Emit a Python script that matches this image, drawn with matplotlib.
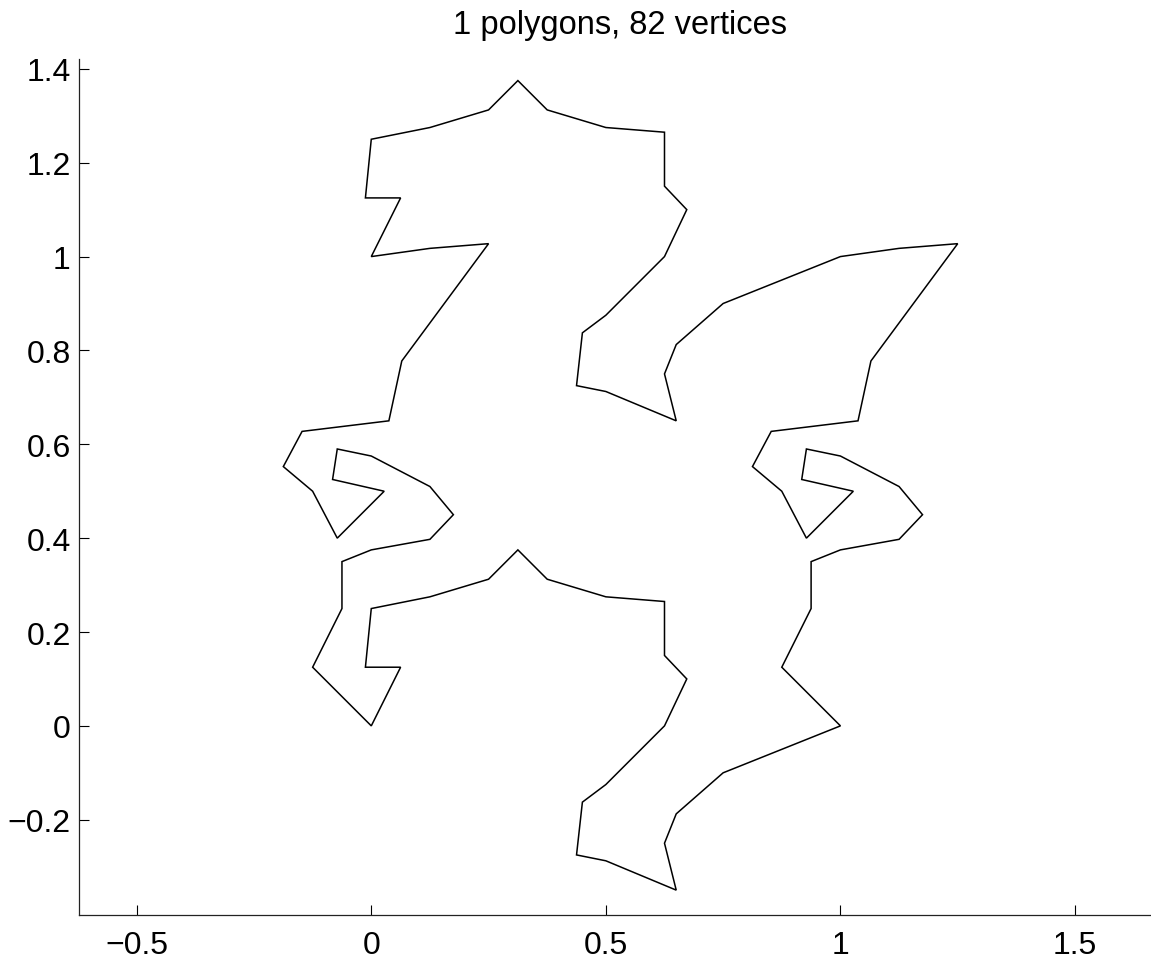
import matplotlib
matplotlib.use("Agg")
import matplotlib.pyplot as plt

plt.rcParams['font.family'] = ['Liberation Sans', 'DejaVu Sans']

# polygon vertices (82 unique)
poly_x = [
    # bottom edge
    0, 0.0625, -0.0125, 0, 0.125, 0.25, 0.3125, 0.375, 0.5, 0.625, 0.625, 0.6725,
    0.625, 0.5, 0.45, 0.4375, 0.5, 0.65, 0.625, 0.65, 0.75,
    # right edge
    1, 0.875, 0.9375, 0.9375, 1, 1.125, 1.175, 1.125, 1, 0.9275, 0.9175, 1.0275,
    0.9275, 0.875, 0.8125, 0.8525, 1.0375, 1.065, 1.25, 1.125,
    # top edge
    1, 0.75, 0.65, 0.625, 0.65, 0.5, 0.4375, 0.45, 0.5, 0.625, 0.6725, 0.625,
    0.625, 0.5, 0.375, 0.3125, 0.25, 0.125, 0, -0.0125, 0.0625,
    # left edge
    0, 0.125, 0.25, 0.065, 0.0375, -0.1475, -0.1875, -0.125, -0.0725, 0.0275,
    -0.0825, -0.0725, 0, 0.125, 0.175, 0.125, 0, -0.0625, -0.0625, -0.125,
]
poly_y = [
    0, 0.125, 0.125, 0.25, 0.275, 0.3125, 0.375, 0.3125, 0.275, 0.265, 0.15, 0.1,
    0, -0.125, -0.1625, -0.275, -0.2875, -0.35, -0.25, -0.1875, -0.1,
    0, 0.125, 0.25, 0.35, 0.375, 0.3975, 0.45, 0.51, 0.575, 0.59, 0.525, 0.5,
    0.4, 0.5, 0.5525, 0.6275, 0.65, 0.7775, 1.0275, 1.0175,
    1, 0.9, 0.8125, 0.75, 0.65, 0.7125, 0.725, 0.8375, 0.875, 1, 1.1, 1.15,
    1.265, 1.275, 1.3125, 1.375, 1.3125, 1.275, 1.25, 1.125, 1.125,
    1, 1.0175, 1.0275, 0.7775, 0.65, 0.6275, 0.5525, 0.5, 0.4, 0.5,
    0.525, 0.59, 0.575, 0.51, 0.45, 0.3975, 0.375, 0.35, 0.25, 0.125,
]

x_ticks = [-0.5, 0, 0.5, 1, 1.5]
x_labels = ['\u22120.5', '0', '0.5', '1', '1.5']
y_ticks = [-0.2, 0, 0.2, 0.4, 0.6, 0.8, 1.0, 1.2, 1.4]
y_labels = ['\u22120.2', '0', '0.2', '0.4', '0.6', '0.8', '1', '1.2', '1.4']
title = '1 polygons, 82 vertices'

W, H = 1151, 962
fig = plt.figure(figsize=(W / 100, H / 100), dpi=100)
left_px, right_px, top_px, bot_px = 79, 1151, 60, 916
ax = fig.add_axes([left_px / W, (H - bot_px) / H, (right_px - left_px) / W, (bot_px - top_px) / H])

ax.fill(poly_x, poly_y, fill=False, edgecolor='black', linewidth=1.1)

ax.set_xlim(-0.623, 1.662)
ax.set_ylim(-0.403, 1.421)
ax.set_xticks(x_ticks)
ax.set_xticklabels(x_labels)
ax.set_yticks(y_ticks)
ax.set_yticklabels(y_labels)

for s in ['top', 'right']:
    ax.spines[s].set_visible(False)
for s in ['left', 'bottom']:
    ax.spines[s].set_linewidth(0.9)
    ax.spines[s].set_color('#222222')

ax.tick_params(direction='in', length=7, width=0.8, labelsize=23, colors='black')
ax.tick_params(axis='x', pad=11)
ax.tick_params(axis='y', pad=6)

fig.text(620 / W, 1 - 34 / H, title, ha='center', va='baseline', fontsize=23.5)

fig.savefig('out.png', dpi=100)
